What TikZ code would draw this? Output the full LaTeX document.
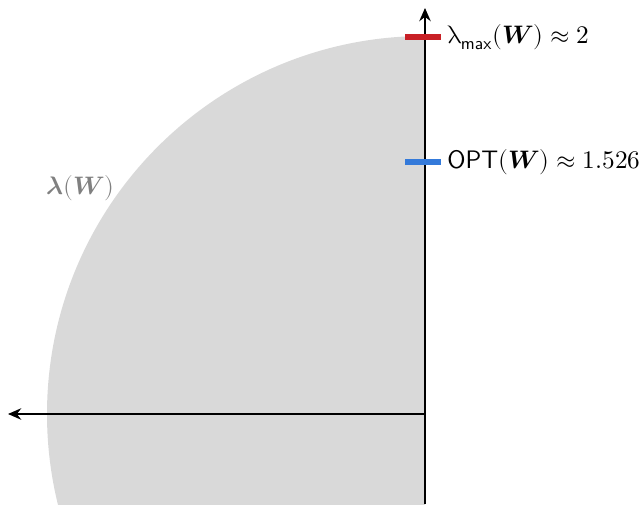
\documentclass[tikz,border=0pt]{standalone}
\usepackage{amsmath}
\usepackage{unicode-math}
\setmathfont{Latin Modern Math}
\usetikzlibrary{arrows.meta,positioning}
\definecolor{diskgray}{RGB}{217,217,217}
\definecolor{lamred}{RGB}{200,32,38}
\definecolor{optblue}{RGB}{52,122,218}
\definecolor{labgray}{RGB}{128,128,128}

\begin{document}
\begin{tikzpicture}
        \useasboundingbox (0,0) rectangle (12.8,10.08);
        \clip (0,0) rectangle (12.8,10.08);
        \coordinate (O) at (8.5,1.8);
        \coordinate (ybot) at (8.5,0);
        \coordinate (ytip) at (8.5,9.92);
        \coordinate (xtip) at (0.16,1.8);
        \fill[diskgray] (O) -- ++(0,7.56) arc[start angle=90,end angle=270,radius=7.56] -- cycle;
        \draw[line width=1.1pt,-{Stealth[length=7.5pt,width=6.5pt]}] (ybot) -- (ytip);
        \draw[line width=1.1pt,-{Stealth[length=7.5pt,width=6.5pt]}] (O) -- (xtip);
        \draw[lamred,line width=3.6pt] (8.1,9.34) coordinate (lamL) -- (8.82,9.34) coordinate (lamR);
        \draw[optblue,line width=3.6pt] (8.1,6.84) coordinate (optL) -- (8.82,6.84) coordinate (optR);
        \node[anchor=west,font=\Large,inner sep=0pt] (lamtext) at ([xshift=0.12cm]lamR) {$\symup{\lambda}_{\textsf{max}}(\symbfit{W}) \approx 2$};
        \node[anchor=west,font=\Large,inner sep=0pt] (opttext) at ([xshift=0.12cm]optR) {\textsf{OPT}$(\symbfit{W}) \approx 1.526$};
        \node[anchor=west,font=\Large,inner sep=0pt,text=labgray] (disklab) at (0.92,6.32) {$\symbfit{\lambda}(\symbfit{W})$};
      \end{tikzpicture}
\end{document}
